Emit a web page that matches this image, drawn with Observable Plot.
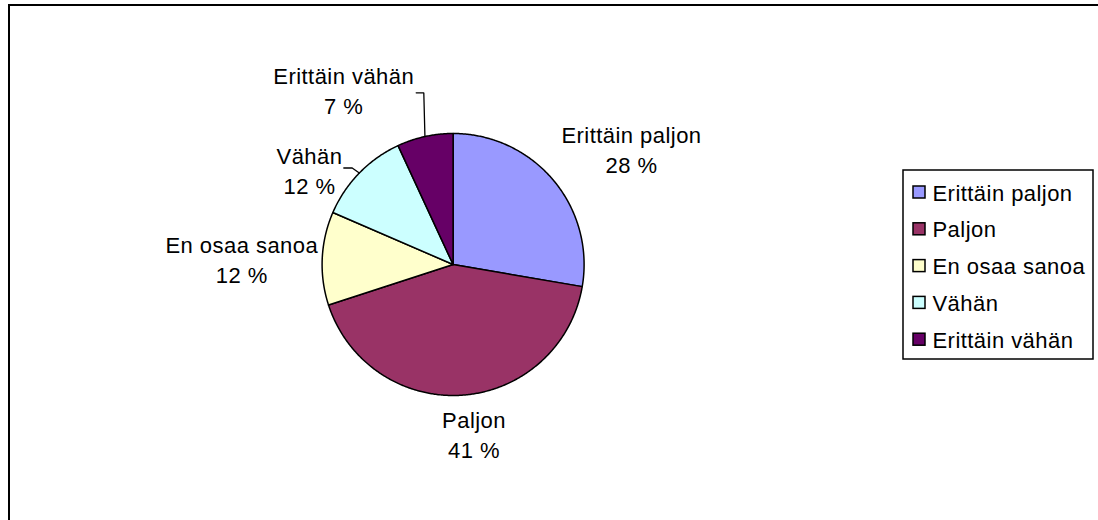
<!DOCTYPE html>
<html><head><meta charset="utf-8">
<script src="https://cdn.jsdelivr.net/npm/d3@7"></script>
<script src="https://cdn.jsdelivr.net/npm/@observablehq/plot@0.6"></script>
<style>
html,body{margin:0;padding:0;background:#fff;width:1098px;height:520px;overflow:hidden;}
#chart{position:absolute;left:0;top:0;}
#frame{position:absolute;left:8px;top:4px;width:1200px;height:600px;border:2px solid #000;box-sizing:border-box;pointer-events:none;}
</style></head><body>
<div id="chart"></div><div id="frame"></div>
<script>
// ---- data ----
const categories = ["Erittäin paljon", "Paljon", "En osaa sanoa", "Vähän", "Erittäin vähän"];
const shares = [27.7, 42.3, 11.5, 11.6, 6.9];
const percentLabels = ["28 %", "41 %", "12 %", "12 %", "7 %"];
const colors = ["#9999FF", "#993366", "#FFFFCC", "#CCFFFF", "#660066"];

// ---- layout (pixels) ----
const W = 1098, H = 520;
const pie = {cx: 452.6, cy: 264, r: 131};
const lineGap = 30;
const labelLayout = [
  {x: 631, y: 142.7, leader: null},
  {x: 473.5, y: 427.7, leader: null},
  {x: 241.3, y: 252.7, leader: null},
  {x: 309, y: 163.3, leader: {start: [343.3, 167.5], knee: [351.7, 167.5]}},
  {x: 343.2, y: 83.3, leader: {start: [415.7, 92.3], knee: [423.3, 92.3]}}
];
const legend = {x1: 903, y1: 170, x2: 1093, y2: 359, base: 200, step: 36.8, swX: 913, sw: 12, textX: 932};
const font = "'Liberation Sans', Arial, sans-serif";

// ---- geometry derived from data ----
const total = d3.sum(shares);
let acc = 0;
const slicePts = [], mids = [];
categories.forEach((c, i) => {
  const a0 = acc / total * 2 * Math.PI; acc += shares[i];
  const a1 = acc / total * 2 * Math.PI;
  slicePts.push({cat: c, x: pie.cx, y: pie.cy});
  const n = Math.max(2, Math.ceil((a1 - a0) / (Math.PI / 360)));
  for (let k = 0; k <= n; k++) {
    const a = a0 + (a1 - a0) * k / n;
    slicePts.push({cat: c, x: pie.cx + pie.r * Math.sin(a), y: pie.cy - pie.r * Math.cos(a)});
  }
  mids.push((a0 + a1) / 2);
});

const nameRows = categories.map((c, i) => ({x: labelLayout[i].x, y: labelLayout[i].y, text: c}));
const pctRows = categories.map((c, i) => ({x: labelLayout[i].x, y: labelLayout[i].y + lineGap, text: percentLabels[i]}));
const leaderPts = [];
categories.forEach((c, i) => {
  const L = labelLayout[i].leader;
  if (!L) return;
  leaderPts.push({cat: c, x: L.start[0], y: L.start[1]});
  leaderPts.push({cat: c, x: L.knee[0], y: L.knee[1]});
  leaderPts.push({cat: c, x: pie.cx + pie.r * Math.sin(mids[i]), y: pie.cy - pie.r * Math.cos(mids[i])});
});
const legendRows = categories.map((c, i) => ({cat: c, base: legend.base + i * legend.step}));

const chart = Plot.plot({
  width: W, height: H,
  margin: 0,
  style: {background: "transparent", fontFamily: font, letterSpacing: "0.45px", overflow: "visible"},
  x: {domain: [0, W], range: [0, W], axis: null},
  y: {domain: [0, H], range: [0, H], axis: null},
  color: {domain: categories, range: colors},
  marks: [
    Plot.line(slicePts, {x: "x", y: "y", z: "cat", fill: "cat", stroke: "#000", strokeWidth: 1.5, curve: "linear-closed", strokeLinejoin: "round"}),
    Plot.line(leaderPts, {x: "x", y: "y", z: "cat", stroke: "#000", strokeWidth: 1.3, strokeLinejoin: "miter"}),
    Plot.text(nameRows, {x: "x", y: "y", text: "text", fontSize: 22, fill: "#000", textAnchor: "middle", lineAnchor: "bottom"}),
    Plot.text(pctRows, {x: "x", y: "y", text: "text", fontSize: 22, fill: "#000", textAnchor: "middle", lineAnchor: "bottom"}),
    Plot.rect([legend], {x1: "x1", x2: "x2", y1: "y1", y2: "y2", fill: "#fff", stroke: "#000", strokeWidth: 1.5}),
    Plot.rect(legendRows, {x1: () => legend.swX, x2: () => legend.swX + legend.sw, y1: d => d.base - 8 - legend.sw / 2, y2: d => d.base - 8 + legend.sw / 2, fill: "cat", stroke: "#000", strokeWidth: 1.5}),
    Plot.text(legendRows, {x: () => legend.textX, y: "base", text: "cat", fontSize: 22, fill: "#000", textAnchor: "start", lineAnchor: "bottom"})
  ]
});
document.getElementById("chart").appendChild(chart);
</script>
</body></html>
